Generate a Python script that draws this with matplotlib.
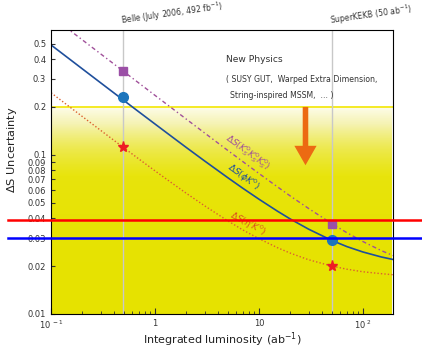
import numpy as np
import matplotlib.pyplot as plt
from matplotlib.colors import LinearSegmentedColormap
from matplotlib.ticker import FixedLocator, NullFormatter

# luminosity grid (ab^-1) and the three projected uncertainties
lumi = [0.1, 0.15, 0.2, 0.3, 0.5, 0.7, 1, 1.5, 2, 3, 5, 7, 10, 15, 20, 30, 50, 70, 100, 150, 200]
ds_phik0 = [0.4905, 0.4007, 0.3471, 0.2836, 0.2200, 0.1862, 0.1562, 0.1280, 0.1112, 0.0915,
            0.0719, 0.0616, 0.0526, 0.0443, 0.0395, 0.0341, 0.0290, 0.0265, 0.0245, 0.0228, 0.0219]
ds_etapk0 = [0.2456, 0.2008, 0.1741, 0.1425, 0.1109, 0.0941, 0.0793, 0.0655, 0.0573, 0.0478,
             0.0385, 0.0337, 0.0297, 0.0261, 0.0241, 0.0219, 0.0200, 0.0191, 0.0184, 0.0179, 0.0176]
lumi_ks3 = [0.155, 0.2, 0.3, 0.5, 0.7, 1, 1.5, 2, 3, 5, 7, 10, 15, 20, 30, 50, 70, 100, 150, 200]
ds_ks3 = [0.5995, 0.5280, 0.4312, 0.3341, 0.2825, 0.2365, 0.1934, 0.1676, 0.1372, 0.1067,
          0.0906, 0.0763, 0.0630, 0.0551, 0.0460, 0.0370, 0.0324, 0.0285, 0.0250, 0.0231]

belle_lumi = 0.492
superkekb_lumi = 50
ks3_points = [0.337, 0.037]
phik0_points = [0.23, 0.029]
etapk0_points = [0.112, 0.020]

np_bound = 0.2        # "new physics" region boundary
ref_lines = [0.039, 0.030]

yticks = [0.01, 0.02, 0.03, 0.04, 0.05, 0.06, 0.07, 0.08, 0.09, 0.1, 0.2, 0.3, 0.4, 0.5]
ytick_labels = ['0.01', '0.02', '0.03', '0.04', '0.05', '0.06', '0.07', '0.08', '0.09',
                '0.1', '0.2', '0.3', '0.4', '0.5']
xticks = [0.1, 1, 10, 100]
xtick_labels = [r'$10^{\ -1}$', '1', '10', r'$10^{\ 2}$']

fig = plt.figure(figsize=(4.22, 3.48), dpi=100)
ax = fig.add_axes([0.121, 0.098, 0.810, 0.816])
ax.set_xscale('log')
ax.set_yscale('log')
xlim = (0.1, 194)
ylim = (0.01, 0.61)
ax.set_xlim(*xlim)
ax.set_ylim(*ylim)

# yellow background: white above 0.2, fading into yellow below
cmap = LinearSegmentedColormap.from_list(
    'yel', [(0.0, '#e6e200'), (0.33, '#e8e40c'), (0.52, '#ede94e'),
            (0.77, '#f5f3b4'), (1.0, '#fefdec')])
ly = np.linspace(np.log10(ylim[0]), np.log10(np_bound), 200)
grad = ((ly - ly[0]) / (ly[-1] - ly[0]))[:, None]
ax.imshow(grad, cmap=cmap, aspect='auto', origin='lower',
          extent=[xlim[0], xlim[1], ylim[0], np_bound], zorder=0)
ax.axhline(np_bound, color='#f2e600', lw=1.2, zorder=1)

# experiment markers
for xv in [belle_lumi, superkekb_lumi]:
    ax.axvline(xv, color='#c8c8c8', lw=1, zorder=1)

ax.plot(lumi_ks3, ds_ks3, color='#a0509a', lw=1, ls=(0, (1, 2, 3, 2)), zorder=2)
ax.plot(lumi, ds_phik0, color='#1f4f9c', lw=1.2, zorder=2)
ax.plot(lumi, ds_etapk0, color='#dc6030', lw=1, ls=(0, (1, 1.5)), zorder=2)

ax.plot([belle_lumi, superkekb_lumi], ks3_points, 's', color='#9b4fa6', ms=6, ls='none', zorder=3)
ax.plot([belle_lumi, superkekb_lumi], phik0_points, 'o', color='#1c75bc', ms=7, ls='none', zorder=3)
ax.plot([belle_lumi, superkekb_lumi], etapk0_points, '*', color='#ee1c24', ms=8, ls='none', zorder=3)

# horizontal reference lines running across the whole figure
for yv, c in zip(ref_lines, ['#ff0000', '#0000ff']):
    ax.axhline(yv, xmin=-0.126, xmax=1.085, color=c, lw=1.8, clip_on=False, zorder=4)

# curve labels
ax.text(7.8, 0.103, r'$\Delta S(K^0_S K^0_S K^0_S)$', color='#a0509a', fontsize=6.5,
        rotation=-36, ha='center', va='center')
ax.text(7.0, 0.073, r'$\Delta S(\phi K^0)$', color='#1f4f9c', fontsize=6.5,
        rotation=-36, ha='center', va='center')
ax.text(7.7, 0.0368, r"$\Delta S(\eta' K^0)$", color='#dc5020', fontsize=6.5,
        rotation=-28, ha='center', va='center')

# new physics arrow and text
ax.annotate('', xy=(28, 0.086), xytext=(28, np_bound),
            arrowprops=dict(arrowstyle='simple,head_width=0.8,head_length=0.7,tail_width=0.2',
                            mutation_scale=20, color='#ec6a12', lw=0, shrinkA=0, shrinkB=0),
            zorder=3)
ax.text(4.8, 0.40, 'New Physics', fontsize=6.6, color='#333333', va='center')
ax.text(4.8, 0.296, '( SUSY GUT,  Warped Extra Dimension,', fontsize=5.6, color='#333333',
        va='center')
ax.text(5.3, 0.235, 'String-inspired MSSM,  ... )', fontsize=5.6, color='#333333', va='center')

# experiment labels above the frame
ax.text(belle_lumi * 0.98, 0.625, r'Belle (July 2006, 492 fb$^{-1}$)', fontsize=5.6, rotation=8,
        rotation_mode='anchor', ha='left', va='bottom', color='#333333')
ax.text(superkekb_lumi * 0.98, 0.625, r'SuperKEKB (50 ab$^{-1}$)', fontsize=5.6, rotation=8,
        rotation_mode='anchor', ha='left', va='bottom', color='#333333')

ax.yaxis.set_major_locator(FixedLocator(yticks))
ax.yaxis.set_minor_locator(FixedLocator([]))
ax.set_yticklabels(ytick_labels)
ax.set_xticks(xticks)
ax.set_xticklabels(xtick_labels)
ax.xaxis.set_minor_formatter(NullFormatter())
ax.tick_params(axis='both', which='both', direction='in', labelsize=6, colors='#333333')
ax.tick_params(axis='both', which='major', length=4)
ax.tick_params(axis='both', which='minor', length=2)
ax.tick_params(axis='y', length=3)

ax.set_xlabel(r'Integrated luminosity (ab$^{-1}$)', fontsize=8, color='#222222')
ax.xaxis.set_label_coords(0.5, -0.058)
ax.set_ylabel(r'$\Delta$S Uncertainty', fontsize=8.2, color='#222222')
ax.yaxis.set_label_coords(-0.095, 0.577)

fig.savefig('out.png', dpi=100)
